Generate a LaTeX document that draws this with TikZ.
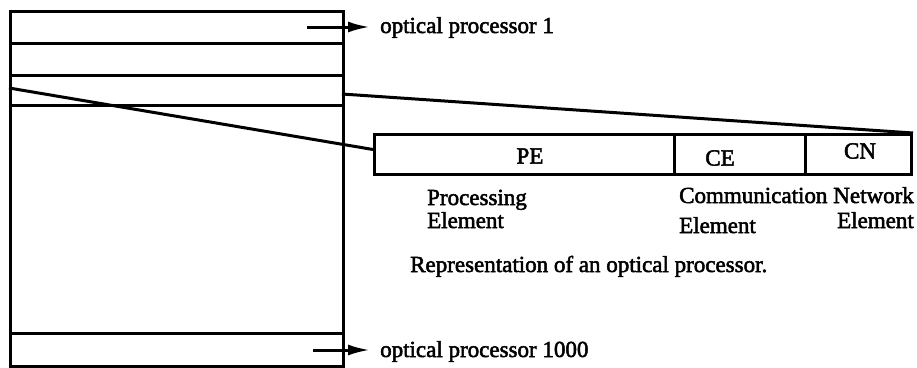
\documentclass[tikz,border=0pt]{standalone}
\usepackage{fontspec}
\setmainfont{Liberation Serif}[FakeBold=2.2]
\usetikzlibrary{arrows.meta}
\begin{document}
\begin{tikzpicture}[x=1pt,y=-1pt,
  lw/.style={line width=3pt},
  lbl/.style={font=\fontsize{23}{23}\selectfont, inner sep=0pt},
  slot/.style={draw, line width=3pt, minimum width=333pt, inner sep=0pt, anchor=north west},
  cell/.style={draw, line width=3pt, minimum height=40pt, inner sep=0pt, anchor=north west},
  ptr/.style={line width=3pt, -{Latex[length=22pt,width=11pt]}}
]
\useasboundingbox (0,0) rectangle (917,367);
% memory column
\node[slot, minimum height=32pt] (row1) at (9,10) {};
\node[slot, minimum height=32pt] (row2) at (9,42) {};
\node[slot, minimum height=30pt] (row3) at (9,74) {};
\node[slot, minimum height=228pt] (row4) at (9,104) {};
\node[slot, minimum height=33pt] (row5) at (9,332) {};
% processor representation
\node[cell, minimum width=300pt] (pe) at (373,133) {};
\node[cell, minimum width=131pt] (ce) at (673,133) {};
\node[cell, minimum width=106pt] (cn) at (804,133) {};
\node[lbl] (pelbl) at (530,156) {PE};
\node[lbl] (celbl) at (720,158) {CE};
\node[lbl] (cnlbl) at (860,151) {CN};
% zoom lines
\coordinate (zl) at (9,88);
\coordinate (zu) at (342,94);
\draw[lw] (zl) -- ([yshift=5pt]pe.west);
\draw[lw] (zu) -- (cn.north east);
% labels
\node[lbl, anchor=base west] (op1) at (380,33) {optical processor 1};
\node[lbl, anchor=base west] (op1000) at (380,357) {optical processor 1000};
\coordinate (s1) at (307,27);
\coordinate (s2) at (313,350);
\draw[ptr, shorten >=10pt] (s1) -- (s1 -| op1.west);
\draw[ptr, shorten >=10pt] (s2) -- (s2 -| op1000.west);
\node[lbl, anchor=base west] (proc) at (427,205) {Processing};
\node[lbl, anchor=base west] (procel) at (427,228) {Element};
\node[lbl, anchor=base west] (comm) at (679,203) {Communication};
\node[lbl, anchor=base west] (commel) at (679,233) {Element};
\node[lbl, anchor=base east] (net) at (914,203) {Network};
\node[lbl, anchor=base east] (netel) at (914,228) {Element};
\node[lbl, anchor=base west] (rep) at (410,272) {Representation of an optical processor.};
\end{tikzpicture}
\end{document}
